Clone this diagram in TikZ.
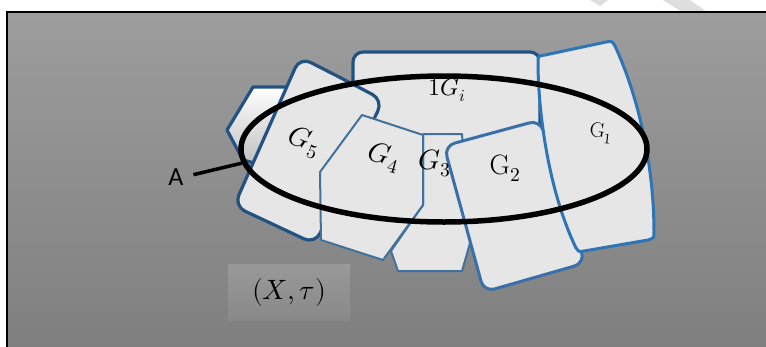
\documentclass[tikz,border=0pt]{standalone}
\usepackage{unicode-math}
\setsansfont{Carlito}
\usetikzlibrary{positioning, shapes.geometric}
\definecolor{bgtop}   {RGB}{157,157,157}
\definecolor{bgbot}   {RGB}{127,127,127}
\definecolor{setfill} {RGB}{230,230,230}
\definecolor{darkedge}{RGB}{34,82,130}
\definecolor{midedge} {RGB}{65,113,156}
\definecolor{twoedge} {RGB}{58,112,168}
\definecolor{oneedge} {RGB}{46,117,182}
\definecolor{wmclr}   {RGB}{222,222,222}
\definecolor{sptop}   {RGB}{153,153,153}
\definecolor{spbot}   {RGB}{137,137,137}

\begin{document}
\begin{tikzpicture}[
    x=1pt, y=-1pt,
    setblk/.style  ={fill=setfill, line join=round},
    darkset/.style ={setblk, draw=darkedge, line width=3.2pt},
    midset/.style  ={setblk, draw=midedge, line width=2pt},
    lbl/.style     ={inner sep=0pt},
]
\useasboundingbox (0,0) rectangle (766,346);
\clip (0,0) rectangle (766,346);

% =============== Page, watermark and frame ===============
\fill[white] (0,0) rectangle (766,346);
\fill[wmclr] (590,0) -- (608,0) -- (600,6) -- cycle;
\fill[wmclr] (663,0) -- (690,0) -- (707,12) -- (682,12) -- cycle;
\shade[top color=bgtop, bottom color=bgbot] (7,12) rectangle (770,350);
\draw[line width=1.5pt] (7,350) -- (7,12) -- (770,12);

% =============== Sets (back to front) ===============
\draw[draw=darkedge, line width=3.2pt, line join=round,
      top color=white, bottom color=gray!50]
  (253,87) -- (290,87) -- (262,165) -- (243,160) -- (227,130) -- cycle;
\draw[darkset, rounded corners=10pt] (353,52) rectangle (540,205);
\draw[darkset, rounded corners=12pt]
  (341,78) -- (383,100) -- (315,244) -- (234,206) -- (300,57) -- cycle;
\draw[midset] (423,134) -- (462,134) -- (470,243) -- (462,271)
  -- (398,271) -- (391,251) -- (423,205) -- cycle;
\draw[midset] (362,115) -- (423,135) -- (423,205) -- (383,260)
  -- (321,240) -- (320,172) -- cycle;
\draw[setblk, draw=twoedge, line width=3pt, rounded corners=11pt]
  (492,133) -- (540,120) -- (585,263) -- (484,292) -- (444,146) -- cycle;
\draw[setblk, draw=oneedge, line width=3pt]
  (538,62) .. controls (538,56) .. (545,55) -- (606,42)
  .. controls (612,41) .. (615,46)
  .. controls (640,100) and (654,170) .. (654,232)
  .. controls (654,238) .. (648,240) -- (584,251)
  .. controls (579,252) .. (576,248)
  .. controls (548,190) and (538,110) .. (538,62) -- cycle;

% =============== Open set A ===============
\node[draw, ellipse, line width=5.5pt, inner sep=0pt,
      minimum width=406pt, minimum height=146pt] (setA) at (444,149) {};

% =============== Labels ===============
\foreach \nm/\pos/\ang/\sz/\txt in {%
    lGi/{447,90}/0/24/{$1G_i$},
    lGv/{304,142}/-20/28/{$G_5$},
    lGiv/{384,157}/-15/28/{$G_4$},
    lGiii/{435,163}/0/28/{$G_3$},
    lGii/{505,168}/0/28/{$\mathrm{G}_2$},
    lGi/{601,133}/-6/21/{$\mathrm{G}_1$}}{%
  \node[lbl, rotate=\ang, font=\fontsize{\sz}{\sz}\selectfont] (\nm) at (\pos) {\txt};
}

\node[lbl, font=\sffamily\fontsize{26}{28}\selectfont] (lblA) at (176,177) {A};
\draw[line width=3.5pt, shorten <=10pt] (lblA.east) -- (setA.184);

% =============== Space ===============
\node[top color=sptop, bottom color=spbot, minimum width=122pt,
      minimum height=56pt, font=\fontsize{28}{30}\selectfont] (space)
      at (289,292) {$(X,\tau)$};

\end{tikzpicture}
\end{document}
